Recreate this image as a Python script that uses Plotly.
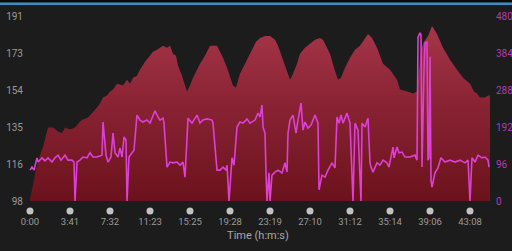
import plotly.graph_objects as go

# Sample index (x) and heart rate (bpm)
hr_x = [0, 3, 6, 10, 13, 16, 18, 23, 28, 32, 35, 40, 45, 50, 53, 58, 62, 67, 70, 73, 77, 80, 83, 87, 93, 97,
        100, 103, 107, 110, 115, 120, 123, 127, 130, 133, 137, 140, 143, 146, 148, 152, 155, 157, 160, 163,
        167, 170, 175, 180, 183, 187, 190, 193, 197, 200, 203, 206, 210, 214, 218, 222, 226, 230, 235, 240,
        245, 248, 252, 256, 260, 263, 267, 270, 275, 280, 285, 290, 293, 297, 300, 304, 308, 311, 315, 320,
        325, 330, 335, 338, 342, 347, 353, 360, 367, 370, 377, 383, 387, 389, 391, 394, 398, 402, 407, 413,
        420, 427, 433, 440, 444, 447, 450, 455, 458, 460]
hr_y = [98.5, 106, 114, 121, 125, 131, 135, 135, 133, 132, 135, 134, 135, 138, 139, 140, 142, 145, 147, 150,
        151, 153, 154, 157, 156, 159, 157, 160, 161, 164, 168, 171, 173, 174, 175, 176, 175, 176, 172, 171,
        166, 161, 156, 153, 156, 160, 164, 167, 171, 176, 176, 176, 173, 170, 165, 160, 156, 155, 162, 166,
        170, 174, 178, 180, 181, 181, 179, 176, 170, 164, 159, 162, 167, 172, 175, 177, 179, 180, 179, 175,
        172, 165, 159, 160, 165, 170, 174, 176, 180, 182, 180, 175, 167, 164, 159, 154, 153, 152, 153, 164,
        174, 178, 181, 186, 182, 175, 169, 164, 160, 157, 153, 152, 150, 150, 151, 151]

# Sample index (x) and power (W)
pw_x = [0, 2, 4, 7, 8, 12, 15, 18, 22, 25, 28, 31, 35, 38, 42, 44, 45, 47, 50, 53, 57, 60, 63, 67, 72, 73,
        76, 78, 81, 83, 85, 88, 90, 92, 94, 96, 97, 99, 102, 104, 107, 110, 113, 117, 120, 125, 128, 130,
        133, 134, 137, 140, 143, 147, 150, 153, 155, 158, 162, 167, 170, 173, 177, 182, 183, 187, 190, 193,
        196, 197, 199, 202, 204, 207, 210, 213, 217, 220, 225, 228, 230, 232, 233, 235, 236, 237, 239, 240,
        242, 245, 248, 252, 255, 257, 258, 260, 263, 266, 268, 271, 273, 275, 278, 281, 285, 288, 289, 292,
        295, 298, 302, 305, 307, 309, 311, 313, 317, 320, 323, 325, 328, 331, 332, 335, 338, 340, 341, 343,
        347, 350, 353, 357, 359, 363, 364, 367, 369, 372, 375, 380, 385, 387, 388, 390, 391, 392, 394, 395,
        397, 398, 399, 400, 401, 402, 405, 408, 411, 415, 420, 425, 430, 435, 438, 440, 442, 445, 448, 452,
        455, 458, 459]
pw_y = [80, 88, 80, 112, 101, 112, 104, 112, 101, 112, 119, 106, 119, 106, 106, 101, 0, 101, 106, 114, 112,
        125, 114, 114, 119, 205, 119, 101, 114, 176, 125, 114, 138, 114, 166, 158, 0, 114, 125, 132, 223,
        210, 205, 210, 202, 234, 218, 210, 215, 202, 88, 101, 99, 101, 93, 101, 62, 215, 202, 223, 202, 210,
        213, 210, 202, 80, 80, 88, 80, 93, 0, 112, 93, 192, 205, 202, 213, 202, 210, 228, 218, 249, 192, 176,
        73, 0, 73, 0, 67, 75, 80, 73, 99, 75, 176, 210, 223, 176, 210, 254, 184, 205, 189, 197, 223, 202, 29,
        67, 62, 80, 99, 86, 218, 202, 223, 202, 228, 202, 0, 202, 184, 0, 202, 192, 215, 99, 88, 75, 99, 93,
        106, 99, 88, 140, 112, 140, 125, 127, 114, 114, 119, 106, 425, 436, 431, 88, 340, 410, 412, 106, 112,
        374, 54, 36, 73, 86, 112, 101, 106, 101, 106, 99, 106, 0, 112, 101, 119, 112, 114, 106, 88]

tick_pos = [0, 40, 80, 120, 160, 200, 240, 280, 320, 360, 400, 440]
tick_labels = ["0:00", "3:41", "7:32", "11:23", "15:25", "19:28", "23:19", "27:10", "31:12", "35:14",
               "39:06", "43:08"]
hr_ticks = [98, 116.6, 135.2, 153.8, 172.4, 191]
hr_tick_labels = ["98", "116", "135", "154", "173", "191"]
pw_ticks = [0, 96, 192, 288, 384, 480]

BG = "#1c1c1c"
FONT = "Roboto, 'Open Sans', sans-serif"

fig = go.Figure()
fig.add_trace(go.Scatter(
    x=hr_x, y=hr_y, mode="lines", line=dict(width=0, color="#8a2232"),
    fill="tozeroy",
    fillgradient=dict(type="vertical", start=98, stop=191,
                      colorscale=[[0, "#6c121c"], [0.5, "#882233"], [1, "#a8384b"]]),
    hoverinfo="skip", showlegend=False))
fig.add_trace(go.Scatter(
    x=pw_x, y=pw_y, mode="lines", yaxis="y2",
    line=dict(color="#dc40d6", width=1.6), hoverinfo="skip", showlegend=False))

# tick dots below the axis
dot_shapes = [dict(type="circle", xref="x", yref="paper", xsizemode="pixel", ysizemode="pixel",
                   xanchor=p, yanchor=0, x0=-3.5, x1=3.5, y0=-13.5, y1=-6.5,
                   fillcolor="#c2c2c2", line=dict(width=0)) for p in tick_pos]

fig.update_layout(
    width=512, height=251,
    margin=dict(l=26, r=22, t=16, b=50, pad=0),
    paper_bgcolor=BG, plot_bgcolor=BG,
    font=dict(family=FONT, color="#9a9a9a", size=10),
    xaxis=dict(range=[-4, 460], tickvals=tick_pos, ticktext=tick_labels, showgrid=False,
               zeroline=False, showline=False, ticks="outside", ticklen=12, automargin=False,
               tickcolor="rgba(0,0,0,0)", tickfont=dict(size=9.5, color="#9a9a9a"),
               title=dict(text="Time (h:m:s)", font=dict(size=11, color="#a8a8a8"), standoff=4)),
    yaxis=dict(range=[98, 191], tickvals=hr_ticks, ticktext=hr_tick_labels, showgrid=False,
               zeroline=False, showline=False, ticks="outside", ticklen=0, automargin=False,
               tickcolor="rgba(0,0,0,0)", tickfont=dict(size=10, color="#9a9a9a")),
    yaxis2=dict(range=[0, 480], tickvals=pw_ticks, overlaying="y", side="right", showgrid=False,
                zeroline=False, showline=False, ticks="outside", ticklen=3, automargin=False,
                tickcolor="rgba(0,0,0,0)", tickfont=dict(size=10, color="#b23cb2")),
    shapes=[
        dict(type="rect", xref="paper", yref="paper", x0=-0.07, x1=1.05, y0=1.073, y1=1.1,
             fillcolor="#0b0b0b", line=dict(width=0), layer="above"),
        dict(type="rect", xref="paper", yref="paper", x0=-0.07, x1=1.05, y0=1.06, y1=1.073,
             fillcolor="#3a8fc0", line=dict(width=0), layer="above"),
    ] + dot_shapes,
)

fig.write_html("out.html")
